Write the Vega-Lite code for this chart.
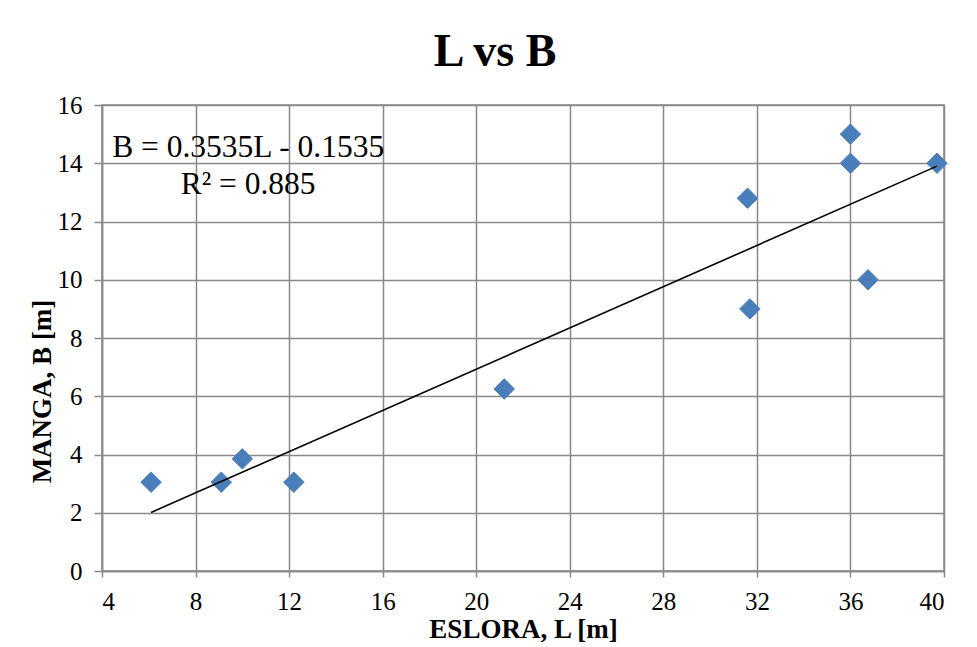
{
  "$schema": "https://vega.github.io/schema/vega-lite/v6.json",
  "autosize": "none",
  "width": 842,
  "height": 466,
  "padding": {"left": 102, "top": 105, "right": 33, "bottom": 76},
  "background": "white",
  "title": {
    "text": "L vs B",
    "font": "Liberation Serif",
    "fontSize": 46,
    "fontWeight": "bold",
    "color": "black",
    "anchor": "middle",
    "dx": -28,
    "baseline": "alphabetic",
    "offset": -19
  },
  "datasets": {
    "pts": [
      {"L": 6.1, "B": 3.05},
      {"L": 9.1, "B": 3.05},
      {"L": 10.0, "B": 3.85},
      {"L": 12.2, "B": 3.05},
      {"L": 21.2, "B": 6.25},
      {"L": 31.6, "B": 12.8},
      {"L": 31.7, "B": 9.0},
      {"L": 36.0, "B": 15.0},
      {"L": 36.0, "B": 14.0},
      {"L": 36.75, "B": 10.0},
      {"L": 39.7, "B": 14.0}
    ],
    "eq": [
      {"L": 10.25, "B": 14.2, "label": "B = 0.3535L - 0.1535"},
      {"L": 10.25, "B": 12.95, "label": "R² = 0.885"}
    ]
  },
  "config": {
    "view": {"stroke": "#898989", "strokeWidth": 1.5},
    "axis": {
      "labelFont": "Liberation Serif",
      "titleFont": "Liberation Serif",
      "labelColor": "black",
      "titleColor": "black",
      "gridColor": "#898989",
      "gridWidth": 1.5,
      "gridOpacity": 1,
      "domainColor": "#898989",
      "domainWidth": 1.5,
      "tickColor": "#898989",
      "tickWidth": 1.5
    }
  },
  "layer": [
    {
      "data": {"name": "pts"},
      "mark": {"type": "point", "shape": "diamond", "filled": true, "size": 420, "color": "#4A7EBB", "stroke": "#4F81BD", "strokeWidth": 1, "opacity": 1},
      "encoding": {
        "x": {
          "field": "L", "type": "quantitative",
          "scale": {"domain": [4, 40], "nice": false, "zero": false},
          "axis": {
            "title": "ESLORA, L [m]",
            "titleFontSize": 27,
            "titleFontWeight": "bold",
            "titleBaseline": "alphabetic",
            "titleY": 66,
            "labelFontSize": 25,
            "values": [4, 8, 12, 16, 20, 24, 28, 32, 36, 40],
            "tickSize": 6,
            "labelPadding": 12,
            "grid": true
          }
        },
        "y": {
          "field": "B", "type": "quantitative",
          "scale": {"domain": [0, 16], "nice": false, "zero": true},
          "axis": {
            "title": "MANGA, B [m]",
            "titleFontSize": 27,
            "titleFontWeight": "bold",
            "titleBaseline": "alphabetic",
            "titleX": -52,
            "titleY": 286,
            "titleAngle": 270,
            "labelFontSize": 25,
            "values": [0, 2, 4, 6, 8, 10, 12, 14, 16],
            "tickSize": 8,
            "labelPadding": 12,
            "grid": true
          }
        }
      }
    },
    {
      "data": {"name": "pts"},
      "transform": [{"regression": "B", "on": "L", "method": "linear"}],
      "mark": {"type": "line", "color": "black", "strokeWidth": 1.6},
      "encoding": {
        "x": {"field": "L", "type": "quantitative"},
        "y": {"field": "B", "type": "quantitative"}
      }
    },
    {
      "data": {"name": "eq"},
      "mark": {"type": "text", "font": "Liberation Serif", "fontSize": 31.5, "align": "center", "baseline": "alphabetic", "color": "black"},
      "encoding": {
        "x": {"field": "L", "type": "quantitative"},
        "y": {"field": "B", "type": "quantitative"},
        "text": {"field": "label"}
      }
    }
  ]
}
